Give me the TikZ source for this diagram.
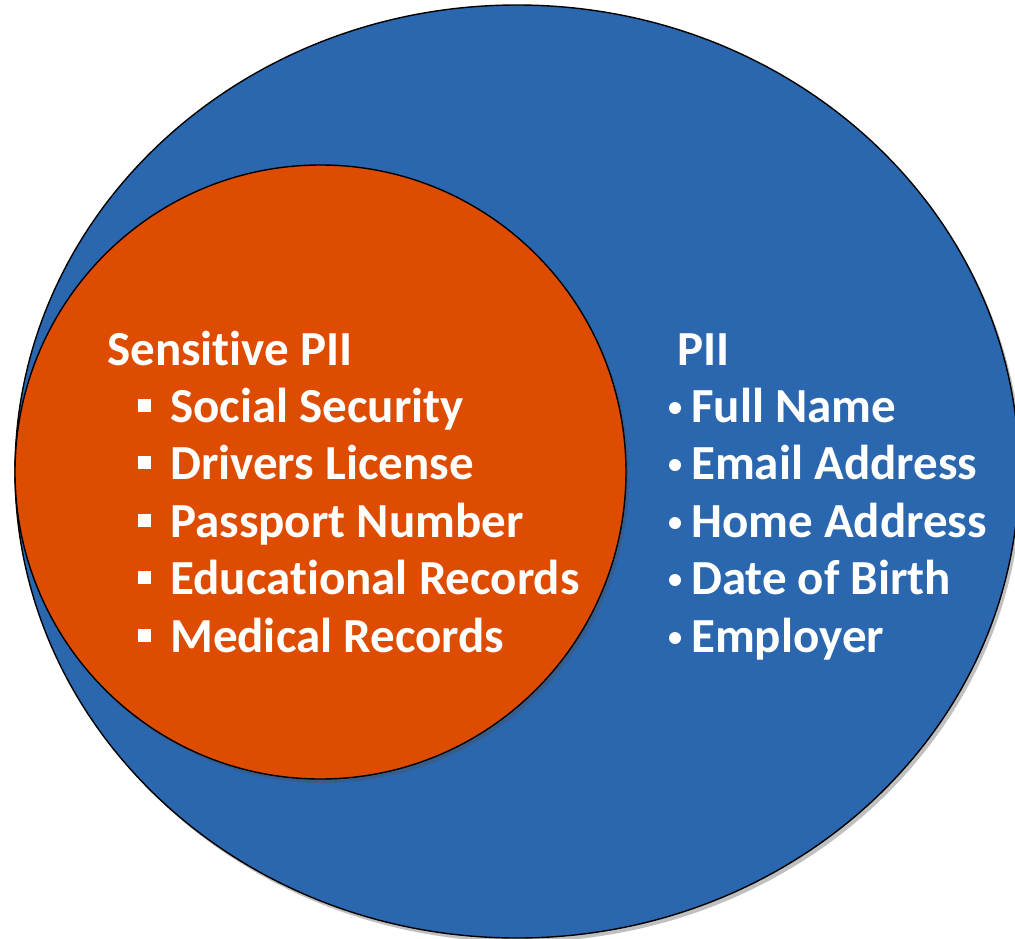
\documentclass[tikz,border=0pt]{standalone}
\usepackage{fontspec}
\setmainfont[Ligatures=NoCommon]{Carlito}
\usetikzlibrary{shapes.geometric,shadows}
\definecolor{piiblue}{HTML}{2B67AE}
\definecolor{sensorange}{HTML}{DD4C00}
\begin{document}
\begin{tikzpicture}[x=1pt,y=-1pt,
  blob/.style={ellipse,draw=black,line width=1.4pt,inner sep=0pt,
    drop shadow={shadow xshift=3pt,shadow yshift=-4pt,opacity=0.35,fill=black!70}},
  lbl/.style={anchor=base west,inner sep=0pt,text=white,
    font=\fontsize{49}{58}\selectfont\bfseries},
  sqb/.style={fill=white,minimum size=13pt,inner sep=0pt},
  dotb/.style={circle,fill=white,minimum size=12pt,inner sep=0pt}]
\useasboundingbox (0,0) rectangle (1015,938);
\clip (0,0) rectangle (1015,938);
\fill[white] (0,0) rectangle (1015,938);
\node[blob,fill=piiblue,minimum width=1004pt,minimum height=933pt] (pii) at (517,471.5) {};
\node[blob,fill=sensorange,minimum width=611pt,minimum height=614pt] (sens) at (320.5,472) {};
% left list
\node[lbl] (sh) at (107,365) {Sensitive PII};
\node[lbl] (s1) at (170,422) {Social Security};
\node[lbl] (s2) at (170,479) {Drivers License};
\node[lbl] (s3) at (170,537) {Passport Number};
\node[lbl] (s4) at (170,594) {Educational Records};
\node[lbl] (s5) at (170,652) {Medical Records};
\foreach \n/\y in {b1/422,b2/479,b3/537,b4/594,b5/652}
  \node[sqb] (\n) at (144.5,\y-16.5) {};
% right list
\node[lbl] (ph) at (677,365) {PII};
\node[lbl] (p1) at (691,422) {Full Name};
\node[lbl] (p2) at (691,479) {Email Address};
\node[lbl] (p3) at (691,537) {Home Address};
\node[lbl] (p4) at (691,594) {Date of Birth};
\node[lbl] (p5) at (691,652) {Employer};
\foreach \n/\y in {d1/422,d2/479,d3/537,d4/594,d5/652}
  \node[dotb] (\n) at (675,\y-14) {};
\end{tikzpicture}
\end{document}
